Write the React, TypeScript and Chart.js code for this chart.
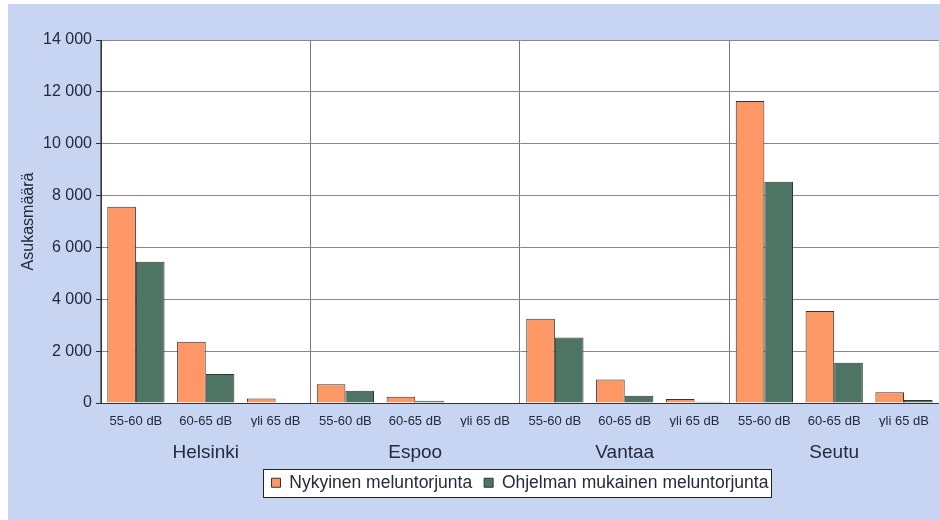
import React, { useEffect, useRef } from "react";
import { Chart, registerables } from "chart.js";

Chart.register(...registerables);

const categories = [
  "55-60 dB", "60-65 dB", "yli 65 dB",
  "55-60 dB", "60-65 dB", "yli 65 dB",
  "55-60 dB", "60-65 dB", "yli 65 dB",
  "55-60 dB", "60-65 dB", "yli 65 dB",
];
const groupLabels = ["", "Helsinki", "", "", "Espoo", "", "", "Vantaa", "", "", "Seutu", ""];
const nykyinen = [7570, 2360, 170, 720, 240, 20, 3250, 910, 150, 11650, 3550, 410];
const ohjelman = [5450, 1120, 0, 470, 90, 20, 2530, 280, 50, 8530, 1550, 120];
const seriesNames = ["Nykyinen meluntorjunta", "Ohjelman mukainen meluntorjunta"];
const yTitle = "Asukasmäärä";

const FONT = "'Liberation Sans', Arial, sans-serif";
const TEXT = "#262a3a";
const BLUE = "#c7d4f2";

const bgPlugin = {
  id: "bgPlugin",
  beforeDraw(chart: any) {
    const { ctx, width, height, chartArea: a } = chart;
    ctx.save();
    ctx.fillStyle = "#ffffff";
    ctx.fillRect(0, 0, width, height);
    ctx.fillStyle = BLUE;
    ctx.fillRect(8, 4, width - 8, height - 4);
    ctx.fillStyle = "#ffffff";
    ctx.fillRect(a.left, a.top, a.right - a.left, a.bottom - a.top);
    const hb = chart.legend && chart.legend.legendHitBoxes;
    if (hb && hb.length) {
      const l = Math.round(hb[0].left - 9);
      const last = hb[hb.length - 1];
      const r = Math.round(last.left + last.width + 3);
      const cy = hb[0].top + hb[0].height / 2;
      const t = Math.round(cy - 14);
      ctx.fillStyle = "#ffffff";
      ctx.fillRect(l, t, r - l, 28);
      ctx.strokeStyle = "#222222";
      ctx.lineWidth = 1;
      ctx.strokeRect(l + 0.5, t + 0.5, r - l, 28);
    }
    ctx.restore();
  },
};

function fmt(v: number) {
  return String(v).replace(/\B(?=(\d{3})+(?!\d))/g, " ");
}

export default function App() {
  const ref = useRef<HTMLCanvasElement | null>(null);
  useEffect(() => {
    if (!ref.current) return;
    const chart = new Chart(ref.current, {
      type: "bar",
      data: {
        labels: categories,
        datasets: [
          {
            label: seriesNames[0],
            data: nykyinen,
            backgroundColor: "#fd9766",
            borderColor: "#333333",
            borderWidth: 1,
            barPercentage: 1,
            categoryPercentage: 0.82,
          },
          {
            label: seriesNames[1],
            data: ohjelman,
            backgroundColor: "#4e7464",
            borderColor: "#333333",
            borderWidth: 1,
            barPercentage: 1,
            categoryPercentage: 0.82,
          },
        ],
      },
      options: {
        responsive: false,
        animation: false,
        layout: { padding: { left: 0, right: 1, top: 40, bottom: 18.5 } },
        plugins: {
          tooltip: { enabled: false },
          legend: {
            position: "bottom",
            fullSize: false,
            labels: {
              boxWidth: 9,
              boxHeight: 9,
              padding: 12,
              color: TEXT,
              font: { family: FONT, size: 17.5 },
            },
          },
        },
        scales: {
          x: {
            type: "category",
            offset: true,
            grid: {
              offset: true,
              drawTicks: false,
              color: (c: any) => (c.index % 3 === 0 ? "#777777" : "rgba(0,0,0,0)"),
              lineWidth: 1,
            },
            border: { display: true, color: "#333333", width: 1 },
            ticks: {
              maxRotation: 0,
              autoSkip: false,
              padding: 11,
              color: TEXT,
              font: { family: FONT, size: 13 },
            },
            afterFit: (s: any) => { s.height = 24; },
          },
          x2: {
            type: "category",
            position: "bottom",
            labels: groupLabels,
            offset: true,
            grid: { display: false, drawTicks: false },
            border: { display: false },
            ticks: {
              maxRotation: 0,
              autoSkip: false,
              padding: 14,
              color: TEXT,
              font: { family: FONT, size: 19 },
            },
            afterFit: (s: any) => { s.height = 35; },
          },
          y: {
            min: 0,
            max: 14000,
            grid: { color: "#888888", tickColor: "#333333", tickLength: 5, drawTicks: true },
            border: { display: true, color: "#333333", width: 1 },
            ticks: {
              stepSize: 2000,
              padding: 4,
              color: TEXT,
              font: { family: FONT, size: 16 },
              callback: (v: any) => fmt(Number(v)),
            },
            title: {
              display: true,
              text: yTitle,
              color: TEXT,
              font: { family: FONT, size: 16 },
              padding: { top: 19, bottom: 0 },
            },
            afterFit: (s: any) => { s.width = 101; },
          },
        },
      } as any,
      plugins: [bgPlugin],
    });
    return () => chart.destroy();
  }, []);
  return (
    <div style={{ position: "absolute", left: 0, top: 0, width: 940, height: 520 }}>
      <canvas ref={ref} width={940} height={520} />
    </div>
  );
}
